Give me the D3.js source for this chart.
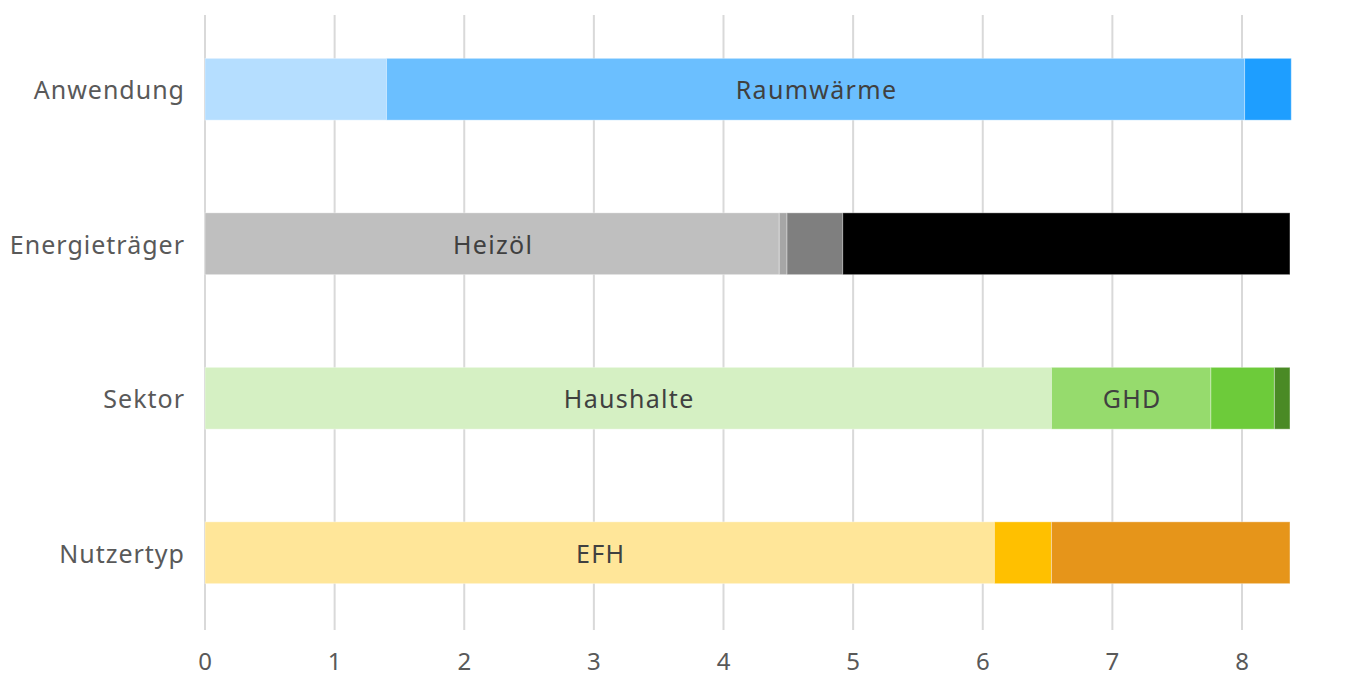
<!DOCTYPE html>
<html>
<head>
<meta charset="utf-8">
<script src="https://cdn.jsdelivr.net/npm/d3@7"></script>
<style>
  body { margin: 0; background: #fff; }
  svg { font-family: "Noto Sans", "Open Sans", sans-serif; }
</style>
</head>
<body>
<svg width="1353" height="675"></svg>
<script>
let categories = ["Anwendung", "Energieträger", "Sektor", "Nutzertyp"];
let ticks = [0, 1, 2, 3, 4, 5, 6, 7, 8];

// segments per row: value, label, colour
let anwendungValues = [1.40, 6.62, 0.36];
let anwendungLabels = ["", "Raumwärme", ""];
let anwendungColors = ["#B5DEFF", "#6BBFFF", "#1E9EFF"];

let energieValues = [4.43, 0.06, 0.43, 3.45];
let energieLabels = ["Heizöl", "", "", ""];
let energieColors = ["#BFBFBF", "#A6A6A6", "#7F7F7F", "#000000"];

let sektorValues = [6.53, 1.23, 0.49, 0.12];
let sektorLabels = ["Haushalte", "GHD", "", ""];
let sektorColors = ["#D5F0C3", "#96DB6D", "#6DCB3A", "#4A8A25"];

let nutzerValues = [6.09, 0.44, 1.84];
let nutzerLabels = ["EFH", "", ""];
let nutzerColors = ["#FFE699", "#FFC000", "#E6951A"];

let rows = [
  [anwendungValues, anwendungLabels, anwendungColors],
  [energieValues, energieLabels, energieColors],
  [sektorValues, sektorLabels, sektorColors],
  [nutzerValues, nutzerLabels, nutzerColors]
];

let svg = d3.select("svg");

let x = d3.scaleLinear().domain([0, 8]).range([205, 1242]);
let y = d3.scaleBand().domain(categories).range([12, 630]).paddingInner(0.6).paddingOuter(0.3);

// gridlines
svg.append("g")
  .selectAll("line")
  .data(ticks)
  .enter()
  .append("line")
  .attr("x1", d => x(d))
  .attr("x2", d => x(d))
  .attr("y1", 15)
  .attr("y2", 630)
  .attr("stroke", "#d9d9d9")
  .attr("stroke-width", 2);

// x tick labels
svg.append("g")
  .selectAll("text")
  .data(ticks)
  .enter()
  .append("text")
  .attr("x", d => x(d))
  .attr("y", 670)
  .attr("text-anchor", "middle")
  .attr("font-size", 24)
  .attr("fill", "#595959")
  .text(d => d);

// category labels
svg.append("g")
  .selectAll("text")
  .data(categories)
  .enter()
  .append("text")
  .attr("x", 185)
  .attr("y", d => y(d) + y.bandwidth() / 2)
  .attr("text-anchor", "end")
  .attr("dominant-baseline", "central")
  .attr("font-size", 25)
  .attr("letter-spacing", 1)
  .attr("fill", "#595959")
  .text(d => d);

// stacked segments
rows.forEach((r, ri) => {
  let [vals, labels, colors] = r;
  let starts = [];
  let acc = 0;
  vals.forEach(v => { starts.push(acc); acc += v; });
  let segs = vals.map((v, i) => ({ x0: starts[i], x1: starts[i] + v, label: labels[i], color: colors[i] }));
  let g = svg.append("g");
  let yy = y(categories[ri]);

  g.selectAll("rect")
    .data(segs)
    .enter()
    .append("rect")
    .attr("x", d => x(d.x0))
    .attr("y", yy)
    .attr("width", d => x(d.x1) - x(d.x0))
    .attr("height", y.bandwidth())
    .attr("fill", d => d.color)
    .attr("stroke", "#fff")
    .attr("stroke-opacity", 0.35)
    .attr("stroke-width", 1);

  g.selectAll("text")
    .data(segs.filter(d => d.label))
    .enter()
    .append("text")
    .attr("x", d => (x(d.x0) + x(d.x1)) / 2 + 1)
    .attr("y", yy + y.bandwidth() / 2)
    .attr("text-anchor", "middle")
    .attr("dominant-baseline", "central")
    .attr("font-size", 25)
    .attr("letter-spacing", 1.3)
    .attr("fill", "#404040")
    .text(d => d.label);
});
</script>
</body>
</html>
